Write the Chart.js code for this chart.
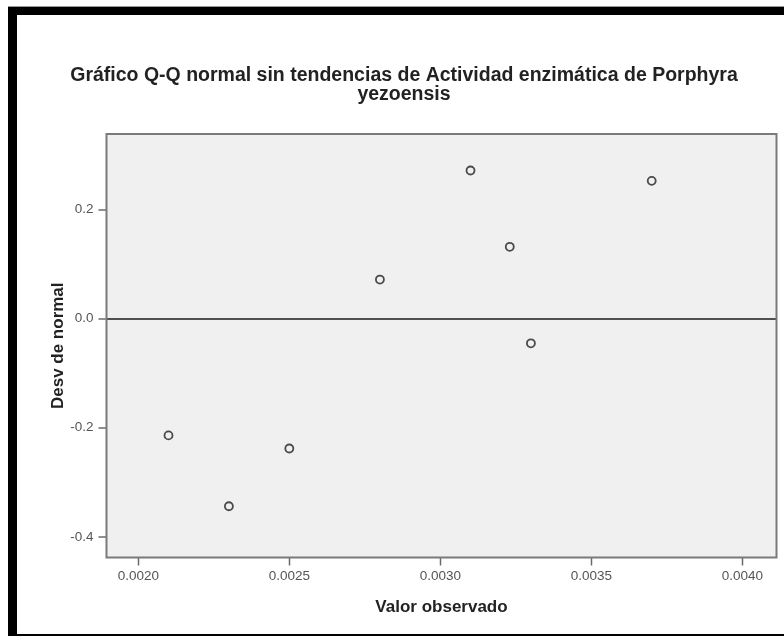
<!DOCTYPE html>
<html lang="es">
<head>
<meta charset="utf-8">
<title>Gráfico Q-Q normal sin tendencias</title>
<script src="https://cdn.jsdelivr.net/npm/chart.js@4/dist/chart.umd.min.js"></script>
<style>
  html, body { margin: 0; padding: 0; background: #ffffff; }
  #wrap { width: 784px; height: 636px; }
</style>
</head>
<body>
<div id="wrap"><canvas id="qq" width="784" height="636"></canvas></div>
<script>
// Observed enzyme activity and its deviation from the normal quantile
const valorObservado = [0.0021, 0.0023, 0.0025, 0.0028, 0.0031, 0.00323, 0.0033, 0.0037];
const desvNormal     = [-0.214, -0.344, -0.238, 0.072, 0.272, 0.132, -0.045, 0.253];

// Axis tick values
const xTicks = [0.0020, 0.0025, 0.0030, 0.0035, 0.0040];
const yTicks = [-0.4, -0.2, 0.0, 0.2];

const tituloGrafico = ['Gráfico Q-Q normal sin tendencias de Actividad enzimática de Porphyra', 'yezoensis'];
const tituloX = 'Valor observado';
const tituloY = 'Desv de normal';

const FONT = '"Liberation Sans", Arial, sans-serif';

// Frame around the figure and the grey plotting panel
const framePlugin = {
  id: 'frame',
  beforeDraw(chart) {
    const { ctx, width, height, chartArea: a } = chart;
    ctx.save();
    ctx.fillStyle = '#ffffff';
    ctx.fillRect(0, 0, width, height);
    ctx.fillStyle = '#9a9a9a';
    ctx.fillRect(8, 6, width - 8, 1);
    ctx.fillStyle = '#000000';
    ctx.fillRect(8, 7, width - 8, 8);      // top band
    ctx.fillRect(8, 7, 9, height - 7);     // left band
    ctx.fillRect(8, height - 2, width - 8, 2); // bottom line
    ctx.fillStyle = '#f0f0f0';
    ctx.fillRect(a.left, a.top, a.right - a.left, a.bottom - a.top);
    ctx.restore();
  },
  beforeDatasetsDraw(chart) {
    const { ctx, chartArea: a } = chart;
    ctx.save();
    ctx.strokeStyle = '#7a7a7a';
    ctx.lineWidth = 2;
    ctx.strokeRect(a.left, a.top, a.right - a.left, a.bottom - a.top);
    ctx.restore();
  }
};

new Chart(document.getElementById('qq'), {
  type: 'scatter',
  data: {
    datasets: [{
      data: valorObservado.map((v, i) => ({ x: v, y: desvNormal[i] })),
      pointStyle: 'circle',
      pointRadius: 4,
      pointHoverRadius: 4,
      borderWidth: 1.8,
      borderColor: '#4a4a4a',
      backgroundColor: 'rgba(0,0,0,0)'
    }]
  },
  options: {
    responsive: false,
    animation: false,
    events: [],
    layout: { padding: { top: 15, left: 31.5, right: 7.5, bottom: 0 } },
    plugins: {
      legend: { display: false },
      tooltip: { enabled: false },
      title: {
        display: true,
        text: tituloGrafico,
        color: '#222222',
        font: { family: FONT, size: 19.5, weight: 'bold', lineHeight: 1.0 },
        padding: { top: 50.5, bottom: 29.5 }
      }
    },
    scales: {
      x: {
        type: 'linear',
        min: 0.0018947,
        max: 0.0041132,
        afterBuildTicks(scale) { scale.ticks = xTicks.map(v => ({ value: v })); },
        afterFit(scale) { scale.height = 78.5; },
        border: { display: false },
        grid: {
          drawOnChartArea: false,
          drawTicks: true,
          tickLength: 8,
          tickColor: '#6a6a6a',
          tickWidth: 1.5
        },
        ticks: {
          padding: 3,
          color: '#555555',
          font: { family: FONT, size: 13.5 },
          maxRotation: 0,
          callback: v => Number(v).toFixed(4)
        },
        title: {
          display: true,
          text: tituloX,
          color: '#222222',
          font: { family: FONT, size: 17, weight: 'bold', lineHeight: 1.2 },
          padding: { top: 0, bottom: 18.8 }
        }
      },
      y: {
        type: 'linear',
        min: -0.438,
        max: 0.339,
        afterBuildTicks(scale) { scale.ticks = yTicks.map(v => ({ value: v })); },
        afterFit(scale) { scale.width = 75; },
        border: { display: false },
        grid: {
          drawOnChartArea: true,
          drawTicks: true,
          tickLength: 8,
          tickColor: '#6a6a6a',
          tickWidth: 1.5,
          color: c => (c.tick && c.tick.value === 0 ? '#505050' : 'rgba(0,0,0,0)'),
          lineWidth: c => (c.tick && c.tick.value === 0 ? 2 : 0)
        },
        ticks: {
          padding: 5,
          color: '#555555',
          font: { family: FONT, size: 13.5 },
          callback: v => Number(v).toFixed(1)
        },
        title: {
          display: true,
          text: tituloY,
          color: '#222222',
          font: { family: FONT, size: 17, weight: 'bold', lineHeight: 1.2 },
          padding: { top: 16.8, bottom: 0 }
        }
      }
    }
  },
  plugins: [framePlugin]
});
</script>
</body>
</html>
